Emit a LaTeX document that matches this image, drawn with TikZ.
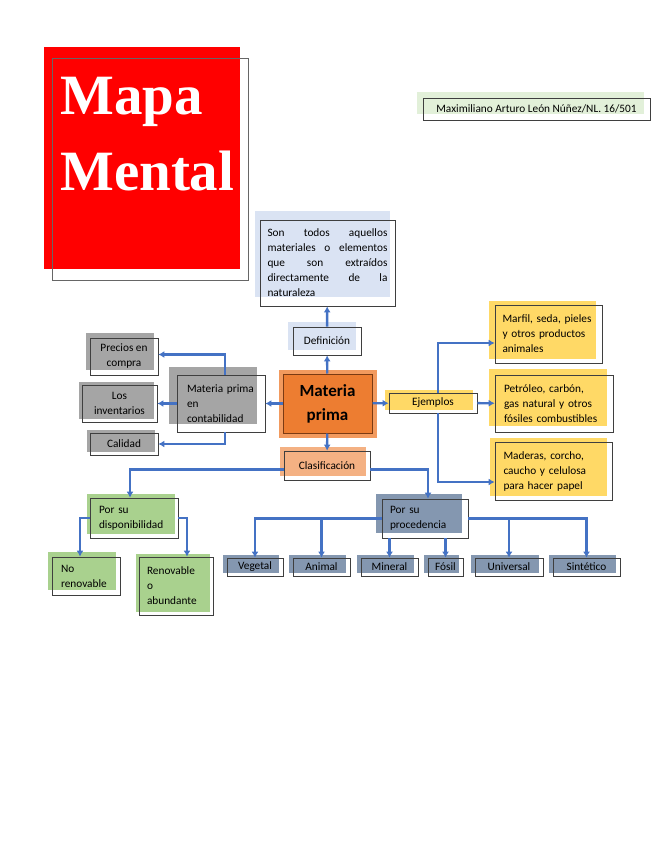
\documentclass[tikz,border=0pt]{standalone}
\usepackage{fontspec}
\setmainfont{Carlito}
\newfontfamily\titulofont{Liberation Serif}
\usetikzlibrary{arrows.meta,shadows}

\definecolor{rojo}{HTML}{FF0000}
\definecolor{azul}{HTML}{4472C4}
\definecolor{borde}{HTML}{3F3F3F}
\definecolor{gris}{HTML}{A5A5A5}
\definecolor{azulgris}{HTML}{8497B0}
\definecolor{verde}{HTML}{A9D18E}
\definecolor{verdeclaro}{HTML}{E2F0D9}
\definecolor{amarillo}{HTML}{FFD966}
\definecolor{celeste}{HTML}{DAE3F3}
\definecolor{salmon}{HTML}{F4B183}
\definecolor{naranja}{HTML}{ED7D31}
\definecolor{naranjaclaro}{HTML}{F29A5E}
\definecolor{cafe}{HTML}{7B3A12}

\tikzset{
    caja/.style={draw=borde, line width=0.8pt, inner sep=0pt, align=center,
        font=\fontsize{11.3}{15}\selectfont},
    relleno/.style args={#1/#2/#3}{general shadow={fill=#1, shadow xshift=#2pt, shadow yshift=#3pt}},
    flecha/.style={draw=azul, line width=2.4pt, -{Latex[length=6pt,width=7pt]}},
    abajo/.style={caja, relleno={azulgris/-4/3}, minimum height=18pt}
}

\begin{document}
\begin{tikzpicture}[x=1pt, y=-1pt]
            \useasboundingbox (0,0) rectangle (655,848);

            % Title
            \node[caja, draw=black!60, relleno={rojo/-8/11}, minimum width=196pt, minimum height=222pt] (titulo) at (150,169) {};
            \node[anchor=base west, inner sep=0pt, text=white, font=\titulofont\bfseries\fontsize{57}{75}\selectfont] (mapa) at (60,115) {Mapa};
            \node[anchor=base west, inner sep=0pt, text=white, font=\titulofont\bfseries\fontsize{57}{75}\selectfont] (mental) at (60,190) {Mental};

            \node[caja, relleno={verdeclaro/-6/6}, minimum width=227pt, minimum height=22pt] (autor) at (536.5,109) {Maximiliano Arturo León Núñez/NL. 16/501};

            % Define nodes
            \node[caja, relleno={celeste/-5/9}, minimum width=135pt, minimum height=86pt, text width=120pt, align=left] (concepto) at (327.5,263) {Son\hfill todos\hfill aquellos\\ materiales\hfill o\hfill elementos\\ que\hfill son\hfill extraídos\\ directamente\hfill de\hfill la\\ naturaleza};
            \node[caja, relleno={celeste/-5/5}, minimum width=68pt, minimum height=28pt] (definicion) at (327,341) {Definición};
            \node[caja, draw=cafe, line width=1pt, fill=naranja, preaction={draw=naranjaclaro, line width=9pt}, minimum width=89pt, minimum height=59pt, font=\bfseries\fontsize{17}{24}\selectfont] (materia) at (327.5,403.5) {Materia\\prima};
            \node[caja, relleno={amarillo/-4/3}, minimum width=88pt, minimum height=20pt] (ejemplos) at (433,403) {Ejemplos};
            \node[caja, relleno={salmon/-4/4}, minimum width=86pt, minimum height=29pt] (clasificacion) at (327,465.5) {Clasificación};

            \node[caja, relleno={gris/-8/8}, minimum width=88pt, minimum height=57pt, text width=68pt, align=left] (contabilidad) at (221,403.5) {Materia prima\\en\\contabilidad};
            \node[caja, relleno={gris/-4/5}, minimum width=68pt, minimum height=37pt] (precios) at (124,356.5) {Precios en\\compra};
            \node[caja, relleno={gris/-3/3}, minimum width=75pt, minimum height=37pt] (inventarios) at (119.5,403.5) {Los\\inventarios};
            \node[caja, relleno={gris/-3/3}, minimum width=68pt, minimum height=22pt] (calidad) at (124,444) {Calidad};

            \node[caja, relleno={amarillo/-6/4}, minimum width=107pt, minimum height=58pt, text width=92pt, align=left] (marfil) at (548.5,334) {Marfil, seda, pieles\\y otros productos\\animales};
            \node[caja, relleno={amarillo/-6/6}, minimum width=118pt, minimum height=57pt, text width=100pt, align=left] (petroleo) at (554,403.5) {Petróleo, carbón,\\gas natural y otros\\fósiles combustibles};
            \node[caja, relleno={amarillo/-5/4}, minimum width=117pt, minimum height=58pt, text width=100pt, align=left] (maderas) at (553.5,471) {Maderas, corcho,\\caucho y celulosa\\para hacer papel};

            \node[caja, relleno={verde/-3/4}, minimum width=88pt, minimum height=40pt, text width=70pt, align=left] (disponibilidad) at (134,518) {Por su\\disponibilidad};
            \node[caja, relleno={verde/-4/5}, minimum width=68pt, minimum height=38pt, text width=50pt, align=left] (norenovable) at (86,576) {No\\renovable};
            \node[caja, relleno={verde/-3/3}, minimum width=74pt, minimum height=58pt, text width=58pt, align=left] (renovable) at (176,586) {Renovable\\o\\abundante};

            \node[caja, relleno={azulgris/-6/5}, minimum width=86pt, minimum height=39pt, text width=70pt, align=left] (procedencia) at (425,518.5) {Por su\\procedencia};
            \node[abajo, minimum width=56pt] (vegetal) at (255,567) {Vegetal};
            \node[abajo, minimum width=57pt] (animal) at (321.5,567) {Animal};
            \node[abajo, minimum width=57pt] (mineral) at (389.5,567) {Mineral};
            \node[abajo, minimum width=35pt] (fosil) at (445.5,567) {Fósil};
            \node[abajo, minimum width=68pt] (universal) at (509,567) {Universal};
            \node[abajo, minimum width=67pt] (sintetico) at (586.5,567) {Sintético};

            % Draw edges
            \draw[flecha] (materia) -- (definicion);
            \draw[flecha] (definicion) -- (concepto);
            \draw[flecha] (materia) -- (contabilidad);
            \draw[flecha] ([xshift=4pt]contabilidad.north) |- ([yshift=2pt]precios.east);
            \draw[flecha] (contabilidad) -- (inventarios);
            \draw[flecha] ([xshift=4pt]contabilidad.south) |- (calidad.east);
            \draw[flecha] (materia) -- (ejemplos);
            \draw[flecha] ([xshift=5pt]ejemplos.north) |- ([yshift=-9pt]marfil.west);
            \draw[flecha] (ejemplos) -- (petroleo);
            \draw[flecha] ([xshift=5pt]ejemplos.south) |- ([yshift=-11pt]maderas.west);
            \draw[flecha] (materia) -- (clasificacion);
            \draw[flecha] ([yshift=-4pt]clasificacion.west) -| ([xshift=-4pt]disponibilidad.north);
            \draw[flecha] ([yshift=-4pt]clasificacion.east) -| ([xshift=3pt]procedencia.north);
            \draw[flecha] (disponibilidad.west) -| ([xshift=-6pt]norenovable.north);
            \draw[flecha] (disponibilidad.east) -| ([xshift=11pt]renovable.north);
            \draw[flecha] (procedencia.west) -| (vegetal.north);
            \draw[flecha] (procedencia.west) -| (animal.north);
            \draw[flecha] (procedencia.south -| mineral.north) -- (mineral.north);
            \draw[flecha] (procedencia.south -| fosil.north) -- (fosil.north);
            \draw[flecha] (procedencia.east) -| (universal.north);
            \draw[flecha] (procedencia.east) -| (sintetico.north);

        \end{tikzpicture}
\end{document}
